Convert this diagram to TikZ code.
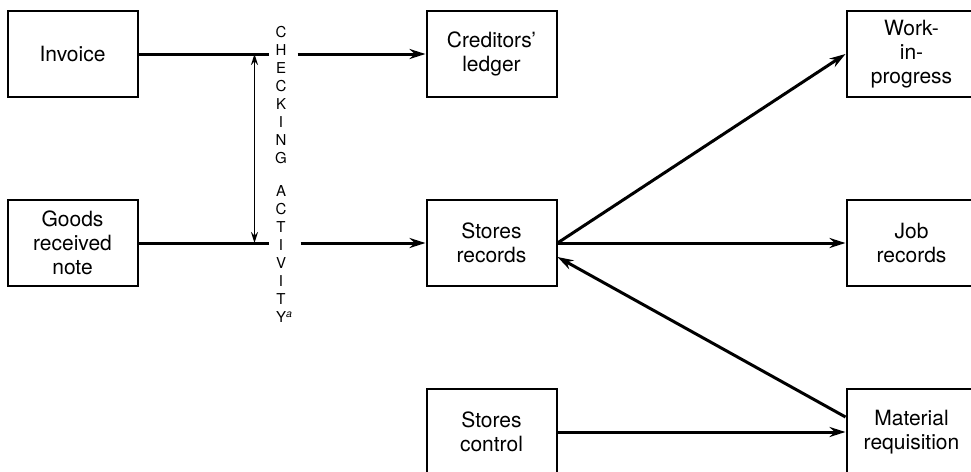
\documentclass[tikz,border=0pt]{standalone}
\usepackage{fontspec}
\setmainfont{TeX Gyre Heros}
\usetikzlibrary{arrows.meta, positioning}

\begin{document}
\begin{tikzpicture}[
x=1pt, y=-1pt,
box/.style={draw, rectangle, line width=2pt, minimum width=130pt, minimum height=86pt, align=center, font=\fontsize{21}{24}\selectfont},
flow/.style={line width=3pt},
arrow/.style={flow, -{Stealth[length=16pt, width=10pt]}},
check/.style={line width=1.5pt, {Stealth[length=11pt, width=7pt]}-{Stealth[length=11pt, width=7pt]}}
]
\useasboundingbox (0,0) rectangle (971,471);

% Source documents
\node[box] (invoice) at (72.5,54) {Invoice};
\node[box, below=101pt of invoice] (grn) {Goods\\received\\note};

% Middle column
\node[box, right=287pt of invoice] (ledger) {Creditors'\\ledger};
\node[box, right=287pt of grn] (records) {Stores\\records};
\node[box, below=101pt of records] (control) {Stores\\control};

% Right column
\node[box, right=288pt of ledger] (wip) {Work-\\in-\\progress};
\node[box, right=288pt of records] (job) {Job\\records};
\node[box, right=288pt of control] (req) {Material\\requisition};

% Checking activity
\node[font=\fontsize{15}{18}\selectfont, align=center] (checking) at (281,174.5)
  {C\\H\\E\\C\\K\\I\\N\\G\\[15pt]A\\C\\T\\I\\V\\I\\T\\Y\rlap{\textsuperscript{\itshape a}}};

% Connectors
\coordinate[right=130pt of invoice.east] (inv-end);
\coordinate[right=159pt of invoice.east] (inv-out);
\coordinate[right=130pt of grn.east] (grn-end);
\coordinate[right=162pt of grn.east] (grn-out);
\coordinate[left=14pt of inv-end] (chk-top);
\coordinate[left=14pt of grn-end] (chk-bot);

\draw[flow] (invoice) -- (inv-end);
\draw[arrow] (inv-out) -- (ledger);
\draw[flow] (grn) -- (grn-end);
\draw[arrow] (grn-out) -- (records);
\draw[check] (chk-top) -- (chk-bot);

\draw[arrow] (records.east) -- (wip.west);
\draw[arrow] (records.east) -- (job.west);
\draw[arrow] ([yshift=15pt]req.west) -- ([yshift=-14pt]records.east);
\draw[arrow] (control) -- (req);

\end{tikzpicture}
\end{document}
